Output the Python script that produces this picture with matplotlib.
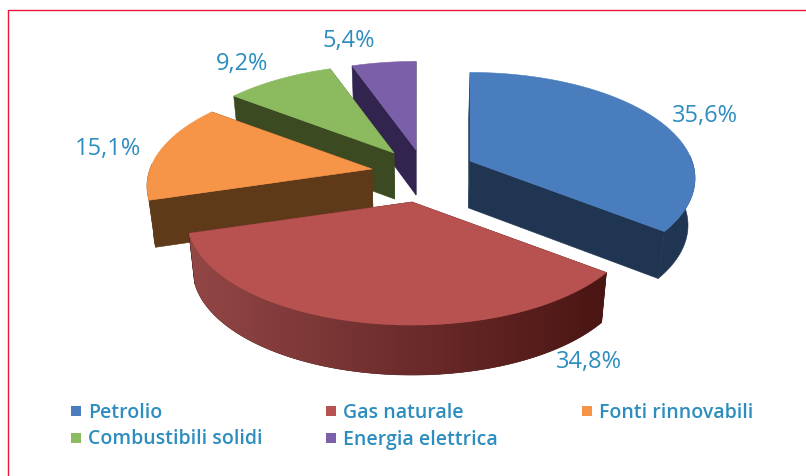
import numpy as np
import matplotlib
matplotlib.use('Agg')
import matplotlib.pyplot as plt
from matplotlib.patches import Polygon, Rectangle
from matplotlib.colors import LinearSegmentedColormap

# data
categories = ['Petrolio', 'Gas naturale', 'Fonti rinnovabili', 'Combustibili solidi', 'Energia elettrica']
values = [35.6, 34.8, 15.1, 9.2, 5.4]
value_labels = ['35,6%', '34,8%', '15,1%', '9,2%', '5,4%']

# style and layout, in pixels of the 806x476 picture
top_colors = ['#4a7dbd', '#b85250', '#f69448', '#8cbb5f', '#7b60a9']
wall_colors = ['#1f3552', '#4a1512', '#5f3a18', '#3b4a20', '#31244f']
apex = [(470, 161), (412, 202), (372, 169), (394, 153), (416, 150)]
depths = [47, 50, 47, 46, 45]
label_pos = [(705, 116), (589, 362), (108, 149), (242, 64), (349, 41)]
legend_pos = [(71, 411), (326, 411), (582, 411), (71, 438), (326, 438)]
text_color = '#2d8dbf'
frame_color = '#e8173a'

rx, ry = 222, 103     # radii of the disc
persp = 0.163         # perspective, the back of the disc looks smaller
mid_x = 415

plt.rcParams['font.family'] = ['Open Sans', 'DejaVu Sans']

fig = plt.figure(figsize=(8.06, 4.76), dpi=100)
ax = fig.add_axes([0, 0, 1, 1])


def rim(center, theta):
    # top edge of the disc, theta goes clockwise from 12 o'clock
    s = 1 / (1 + persp * np.cos(theta))
    return center[0] + rx * np.sin(theta) * s, center[1] - ry * np.cos(theta) * s


def drop(x, y, depth):
    # same point on the bottom face
    return mid_x + (x - mid_x) * 0.975, y + depth


def draw_wall(pts, color, zorder):
    p = Polygon(pts, closed=True, facecolor=color, edgecolor=color, lw=0.4, zorder=zorder)
    ax.add_patch(p)
    return p


shares = np.array(values) / np.sum(values)
ends = np.cumsum(shares) * 2 * np.pi
starts = ends - shares * 2 * np.pi

side_map = LinearSegmentedColormap.from_list('side', ['#934746', '#6e2d2d', '#4a1512'])

# painter order, from the back to the front
for order, i in enumerate([4, 3, 2, 0, 1]):
    z = 2 + order * 3
    c = apex[i]
    d = depths[i]
    thetas = np.linspace(starts[i], ends[i], 120)
    xs, ys = rim(c, thetas)

    # radial walls
    for x, y in [(xs[0], ys[0]), (xs[-1], ys[-1])]:
        draw_wall([(x, y), c, drop(c[0], c[1], d), drop(x, y, d)], wall_colors[i], z)

    # outer wall, only the part that faces us
    front = np.cos(thetas) <= 0.05
    if front.any():
        upper = list(zip(xs[front], ys[front]))
        lower = [drop(x, y, d) for x, y in upper][::-1]
        wall = draw_wall(upper + lower, wall_colors[i], z + 1)
        if i == 1:
            # the big slice has a shaded side, dark to the right
            x0, x1 = min(xs[front]), max(xs[front])
            y0, y1 = min(ys[front]), max(ys[front]) + d
            im = ax.imshow(np.linspace(0, 1, 256).reshape(1, -1), cmap=side_map, extent=[x0, x1, y1, y0],
                           aspect='auto', zorder=z + 1)
            im.set_clip_path(wall)

    # top surface
    ax.add_patch(Polygon(list(zip(xs, ys)) + [c], closed=True, facecolor=top_colors[i],
                         edgecolor=top_colors[i], lw=0.4, zorder=z + 2))

for lab, (x, y) in zip(value_labels, label_pos):
    ax.text(x, y, lab, color=text_color, fontsize=17, ha='center', va='center', zorder=30)

# legend
for name, col, (x, y) in zip(categories, top_colors, legend_pos):
    ax.add_patch(Rectangle((x, y - 5), 10, 10, facecolor=col, edgecolor='none', zorder=30))
    ax.text(x + 17, y + 1.5, name, color=text_color, fontsize=14, fontweight='semibold', ha='left', va='center', zorder=30)

# only the top and left sides of the frame are in the picture
ax.plot([7.5, 7.5, 806], [476, 10, 10], color=frame_color, lw=1.0, zorder=31)

ax.set_xlim(0, 806)
ax.set_ylim(476, 0)
ax.axis('off')

fig.savefig('out.png', dpi=100)
